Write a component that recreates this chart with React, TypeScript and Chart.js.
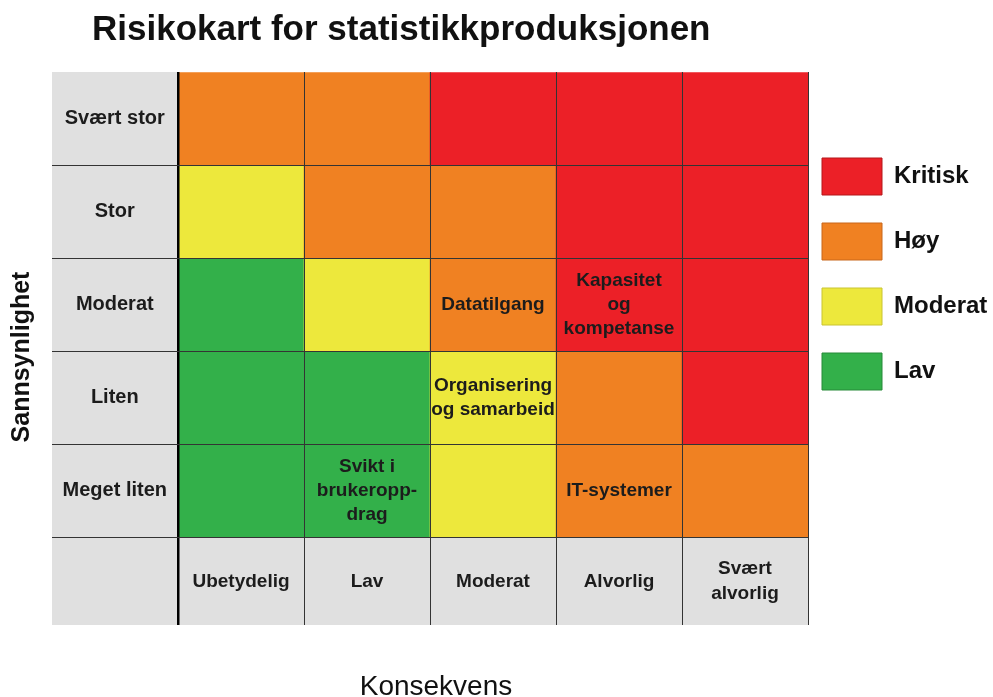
import React, { useEffect, useRef } from "react";
import { Chart, registerables } from "chart.js";

Chart.register(...registerables);

// ---------- data ----------
const TITLE = "Risikokart for statistikkproduksjonen";
const X_TITLE = "Konsekvens";
const Y_TITLE = "Sannsynlighet";

const consequenceLabels: (string | string[])[] = ["Ubetydelig", "Lav", "Moderat", "Alvorlig", ["Svært", "alvorlig"]];
const probabilityLabels = ["Svært stor", "Stor", "Moderat", "Liten", "Meget liten"];

const levelNames = ["Kritisk", "Høy", "Moderat", "Lav"];
const levelColors = ["#EC2027", "#F08122", "#EDE83C", "#33B04A"];
const levelBorders = ["#B5161B", "#C8661A", "#C9C430", "#268A39"];

// risk level per cell, rows top to bottom, columns left to right
const rowSvaertStor = ["Høy", "Høy", "Kritisk", "Kritisk", "Kritisk"];
const rowStor = ["Moderat", "Høy", "Høy", "Kritisk", "Kritisk"];
const rowModerat = ["Lav", "Moderat", "Høy", "Kritisk", "Kritisk"];
const rowLiten = ["Lav", "Lav", "Moderat", "Høy", "Kritisk"];
const rowMegetLiten = ["Lav", "Lav", "Moderat", "Høy", "Høy"];

// risks written in the cells
const notesSvaertStor: string[][] = [[], [], [], [], []];
const notesStor: string[][] = [[], [], [], [], []];
const notesModerat: string[][] = [[], [], ["Datatilgang"], ["Kapasitet", "og", "kompetanse"], []];
const notesLiten: string[][] = [[], [], ["Organisering", "og samarbeid"], [], []];
const notesMegetLiten: string[][] = [[], ["Svikt i", "brukeropp-", "drag"], [], ["IT-systemer"], []];

const rows = [rowSvaertStor, rowStor, rowModerat, rowLiten, rowMegetLiten];
const notes = [notesSvaertStor, notesStor, notesModerat, notesLiten, notesMegetLiten];

// ---------- styling ----------
const FONT = "'Liberation Sans', Arial, Helvetica, sans-serif";
const GRAY = "#E0E0E0";
const LINE = "#343434";
const X_TICK_LEN = 88;
const Y_TICK_LEN = 126;

const backgroundPlugin = {
  id: "labelBackground",
  beforeDraw(chart: any) {
    const { ctx, chartArea } = chart;
    const y = chart.scales.y;
    ctx.save();
    ctx.fillStyle = GRAY;
    ctx.fillRect(y.left, chartArea.top, chartArea.left - y.left, chartArea.bottom + X_TICK_LEN - chartArea.top);
    ctx.fillRect(chartArea.left, chartArea.bottom, chartArea.right - chartArea.left, X_TICK_LEN);
    ctx.restore();
  },
};

const cellNotesPlugin = {
  id: "cellNotes",
  afterDatasetsDraw(chart: any) {
    const { ctx } = chart;
    ctx.save();
    ctx.font = `bold 19px ${FONT}`;
    ctx.fillStyle = "#1c1c1c";
    ctx.textAlign = "center";
    ctx.textBaseline = "middle";
    const lh = 24;
    chart.data.datasets.forEach((ds: any, di: number) => {
      const meta = chart.getDatasetMeta(di);
      meta.data.forEach((el: any, j: number) => {
        const lines: string[] = ds.notes[j] || [];
        if (!lines.length) return;
        const cy = (el.y + el.base) / 2;
        const start = cy - ((lines.length - 1) * lh) / 2;
        lines.forEach((t, k) => ctx.fillText(t, el.x, start + k * lh));
      });
    });
    ctx.restore();
  },
};

const titlesPlugin = {
  id: "titles",
  afterDraw(chart: any) {
    const { ctx } = chart;
    ctx.save();
    ctx.fillStyle = "#111";
    ctx.textBaseline = "alphabetic";
    ctx.textAlign = "left";
    ctx.font = `bold 35px ${FONT}`;
    ctx.fillText(TITLE, 92, 40);

    ctx.textAlign = "center";
    ctx.font = `28px ${FONT}`;
    ctx.fillText(X_TITLE, 436, 695);

    ctx.translate(29, 357);
    ctx.rotate(-Math.PI / 2);
    ctx.font = `bold 25px ${FONT}`;
    ctx.fillText(Y_TITLE, 0, 0);
    ctx.restore();
  },
};

export default function App() {
  const ref = useRef<HTMLCanvasElement | null>(null);

  useEffect(() => {
    if (!ref.current) return;
    const datasets = rows.map((levels, i) => ({
      label: probabilityLabels[i],
      data: levels.map(() => [i, i + 1]),
      backgroundColor: levels.map((l) => levelColors[levelNames.indexOf(l)]),
      borderWidth: 0,
      barPercentage: 1,
      categoryPercentage: 1,
      grouped: false,
      notes: notes[i],
    }));

    const chart = new Chart(ref.current, {
      type: "bar",
      data: { labels: consequenceLabels as any, datasets: datasets as any },
      plugins: [backgroundPlugin, cellNotesPlugin, titlesPlugin],
      options: {
        responsive: false,
        animation: false,
        layout: { padding: { top: 72, left: 52, right: 0, bottom: 0 } },
        font: { family: FONT } as any,
        plugins: {
          title: { display: false },
          tooltip: { enabled: false },
          legend: {
            position: "right",
            align: "start",
            maxWidth: 185,
            title: { display: true, text: "", padding: { top: 60, bottom: 0 }, font: { size: 12, lineHeight: 1 } },
            labels: {
              boxWidth: 60,
              boxHeight: 37,
              padding: 14,
              color: "#111",
              font: { family: FONT, size: 24, weight: "bold", lineHeight: 51 / 24 },
              generateLabels: () =>
                levelNames.map((n, i) => ({
                  text: [n] as any,
                  fillStyle: levelColors[i],
                  strokeStyle: levelBorders[i],
                  fontColor: "#111",
                  lineWidth: 1,
                  hidden: false,
                  index: i,
                })),
            },
          },
        },
        scales: {
          x: {
            type: "category",
            offset: true,
            afterFit: (s: any) => {
              s.height = 160;
            },
            border: { display: false },
            grid: {
              offset: true,
              z: 1,
              drawTicks: true,
              tickLength: X_TICK_LEN,
              color: (c: any) => (c.index === 0 ? "#000" : c.index === 5 ? "rgba(0,0,0,0)" : LINE),
              lineWidth: (c: any) => (c.index === 0 ? 2.5 : 1),
            },
            ticks: {
              autoSkip: false,
              maxRotation: 0,
              minRotation: 0,
              crossAlign: "center",
              padding: -56,
              color: "#1c1c1c",
              font: { family: FONT, size: 19, weight: "bold", lineHeight: 25 / 19 },
            },
          },
          y: {
            type: "linear",
            min: 0,
            max: 5,
            reverse: true,
            afterFit: (s: any) => {
              s.width = 126;
            },
            afterBuildTicks: (s: any) => {
              s.ticks = [0, 0.5, 1, 1.5, 2, 2.5, 3, 3.5, 4, 4.5, 5].map((v) => ({ value: v }));
            },
            border: { display: false },
            grid: {
              z: 1,
              drawTicks: true,
              tickLength: Y_TICK_LEN,
              color: (c: any) =>
                c.tick && Number.isInteger(c.tick.value) && c.tick.value !== 0 ? LINE : "rgba(0,0,0,0)",
              lineWidth: 1,
            },
            ticks: {
              autoSkip: false,
              crossAlign: "center",
              padding: -115,
              color: "#1c1c1c",
              font: { family: FONT, size: 20, weight: "bold" },
              callback: (v: any) => (Number.isInteger(v) ? "" : probabilityLabels[Math.floor(v)]),
            },
          },
        },
      } as any,
    });
    return () => chart.destroy();
  }, []);

  return (
    <div style={{ position: "absolute", left: 0, top: 0, width: 993, height: 697, background: "#fff" }}>
      <canvas ref={ref} width={993} height={697} style={{ display: "block" }} />
    </div>
  );
}
